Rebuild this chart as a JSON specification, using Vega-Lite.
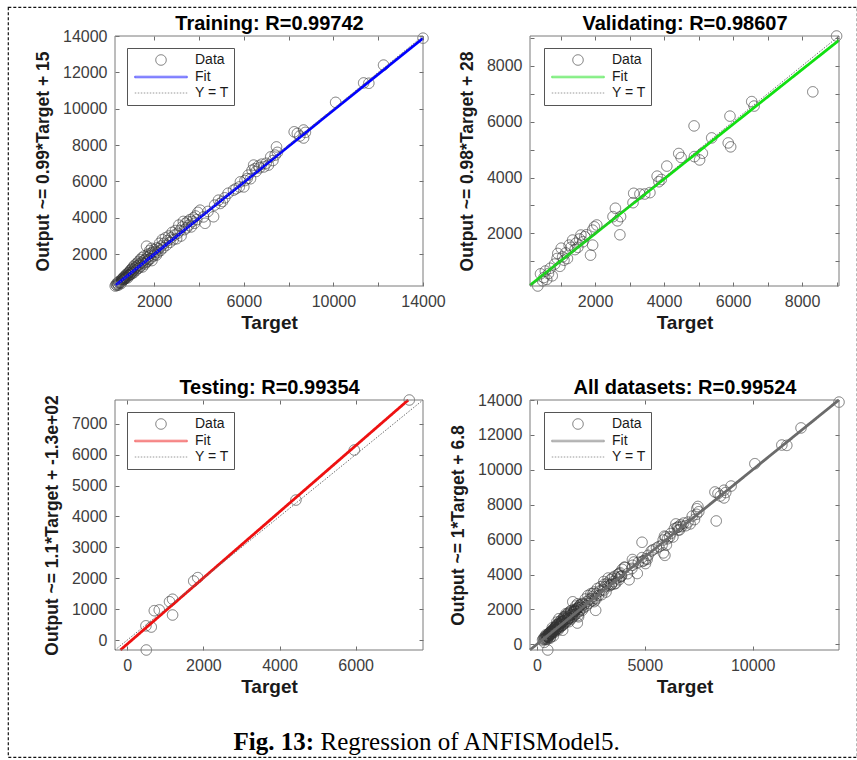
{
  "$schema": "https://vega.github.io/schema/vega-lite/v6.json",
  "background": "white",
  "autosize": {"type": "none"},
  "width": 849,
  "height": 750,
  "padding": {"left": 8, "top": 7, "right": 0, "bottom": 3},
  "view": {"stroke": "#111111", "strokeWidth": 1.2, "strokeDash": [3, 2], "fill": null},
  "datasets": {
    "points": [
      {"set": "Training", "target": 260, "output": 250}, {"set": "Training", "target": 300, "output": 330}, {"set": "Training", "target": 330, "output": 280}, {"set": "Training", "target": 350, "output": 420}, {"set": "Training", "target": 380, "output": 360}, {"set": "Training", "target": 400, "output": 300}, {"set": "Training", "target": 420, "output": 480}, {"set": "Training", "target": 450, "output": 410}, {"set": "Training", "target": 470, "output": 520}, {"set": "Training", "target": 500, "output": 450},
      {"set": "Training", "target": 520, "output": 380}, {"set": "Training", "target": 540, "output": 600}, {"set": "Training", "target": 560, "output": 520}, {"set": "Training", "target": 580, "output": 650}, {"set": "Training", "target": 600, "output": 560}, {"set": "Training", "target": 620, "output": 700}, {"set": "Training", "target": 640, "output": 590}, {"set": "Training", "target": 660, "output": 760}, {"set": "Training", "target": 680, "output": 640}, {"set": "Training", "target": 700, "output": 720},
      {"set": "Training", "target": 720, "output": 820}, {"set": "Training", "target": 740, "output": 680}, {"set": "Training", "target": 760, "output": 900}, {"set": "Training", "target": 780, "output": 760}, {"set": "Training", "target": 800, "output": 850}, {"set": "Training", "target": 820, "output": 700}, {"set": "Training", "target": 840, "output": 960}, {"set": "Training", "target": 860, "output": 820}, {"set": "Training", "target": 880, "output": 1000}, {"set": "Training", "target": 900, "output": 860},
      {"set": "Training", "target": 920, "output": 1080}, {"set": "Training", "target": 940, "output": 900}, {"set": "Training", "target": 960, "output": 1150}, {"set": "Training", "target": 980, "output": 1000}, {"set": "Training", "target": 1000, "output": 920}, {"set": "Training", "target": 1020, "output": 1200}, {"set": "Training", "target": 1040, "output": 1050}, {"set": "Training", "target": 1060, "output": 1300}, {"set": "Training", "target": 1080, "output": 980}, {"set": "Training", "target": 1100, "output": 1150},
      {"set": "Training", "target": 1130, "output": 1400}, {"set": "Training", "target": 1150, "output": 1250}, {"set": "Training", "target": 1180, "output": 1100}, {"set": "Training", "target": 1200, "output": 1320}, {"set": "Training", "target": 1230, "output": 1500}, {"set": "Training", "target": 1250, "output": 1200}, {"set": "Training", "target": 1280, "output": 1380}, {"set": "Training", "target": 1300, "output": 1600}, {"set": "Training", "target": 1330, "output": 1250}, {"set": "Training", "target": 1350, "output": 1450},
      {"set": "Training", "target": 1380, "output": 1700}, {"set": "Training", "target": 1400, "output": 1350}, {"set": "Training", "target": 1430, "output": 1550}, {"set": "Training", "target": 1450, "output": 1800}, {"set": "Training", "target": 1480, "output": 1300}, {"set": "Training", "target": 1500, "output": 1500}, {"set": "Training", "target": 1530, "output": 1650}, {"set": "Training", "target": 1550, "output": 1900}, {"set": "Training", "target": 1580, "output": 1450}, {"set": "Training", "target": 1600, "output": 1700},
      {"set": "Training", "target": 1630, "output": 1550}, {"set": "Training", "target": 1660, "output": 2440}, {"set": "Training", "target": 1680, "output": 1800}, {"set": "Training", "target": 1700, "output": 1600}, {"set": "Training", "target": 1730, "output": 2000}, {"set": "Training", "target": 1750, "output": 1700}, {"set": "Training", "target": 1780, "output": 1900}, {"set": "Training", "target": 1800, "output": 2200}, {"set": "Training", "target": 1830, "output": 1750}, {"set": "Training", "target": 1850, "output": 2050},
      {"set": "Training", "target": 1880, "output": 2320}, {"set": "Training", "target": 1900, "output": 1650}, {"set": "Training", "target": 1930, "output": 2100}, {"set": "Training", "target": 1960, "output": 1900}, {"set": "Training", "target": 2000, "output": 2250}, {"set": "Training", "target": 2030, "output": 2000}, {"set": "Training", "target": 2060, "output": 2150}, {"set": "Training", "target": 2100, "output": 1950}, {"set": "Training", "target": 2130, "output": 2350}, {"set": "Training", "target": 2160, "output": 2100},
      {"set": "Training", "target": 2200, "output": 2300}, {"set": "Training", "target": 2240, "output": 2600}, {"set": "Training", "target": 2280, "output": 2200}, {"set": "Training", "target": 2320, "output": 2450}, {"set": "Training", "target": 2360, "output": 2800}, {"set": "Training", "target": 2400, "output": 2350}, {"set": "Training", "target": 2450, "output": 2600}, {"set": "Training", "target": 2500, "output": 2900}, {"set": "Training", "target": 2550, "output": 2500}, {"set": "Training", "target": 2600, "output": 2750},
      {"set": "Training", "target": 2650, "output": 3000}, {"set": "Training", "target": 2700, "output": 2650}, {"set": "Training", "target": 2750, "output": 2900}, {"set": "Training", "target": 2800, "output": 3200}, {"set": "Training", "target": 2850, "output": 2800}, {"set": "Training", "target": 2900, "output": 3050}, {"set": "Training", "target": 2950, "output": 3300}, {"set": "Training", "target": 3000, "output": 2850}, {"set": "Training", "target": 3050, "output": 3150}, {"set": "Training", "target": 3100, "output": 3600},
      {"set": "Training", "target": 3150, "output": 3300}, {"set": "Training", "target": 3200, "output": 3000}, {"set": "Training", "target": 3250, "output": 3500}, {"set": "Training", "target": 3300, "output": 3800}, {"set": "Training", "target": 3350, "output": 3350}, {"set": "Training", "target": 3400, "output": 3700}, {"set": "Training", "target": 3450, "output": 3450}, {"set": "Training", "target": 3500, "output": 3800}, {"set": "Training", "target": 3550, "output": 3600}, {"set": "Training", "target": 3600, "output": 3900},
      {"set": "Training", "target": 3650, "output": 3500}, {"set": "Training", "target": 3700, "output": 3800}, {"set": "Training", "target": 3750, "output": 4000}, {"set": "Training", "target": 3800, "output": 3700}, {"set": "Training", "target": 3850, "output": 4100}, {"set": "Training", "target": 3900, "output": 3900}, {"set": "Training", "target": 3950, "output": 4300}, {"set": "Training", "target": 4050, "output": 4420}, {"set": "Training", "target": 4200, "output": 4050}, {"set": "Training", "target": 4270, "output": 3700},
      {"set": "Training", "target": 4400, "output": 4350}, {"set": "Training", "target": 4650, "output": 4060}, {"set": "Training", "target": 4700, "output": 4700}, {"set": "Training", "target": 4870, "output": 4970}, {"set": "Training", "target": 4950, "output": 4790}, {"set": "Training", "target": 5050, "output": 4900}, {"set": "Training", "target": 5150, "output": 5100}, {"set": "Training", "target": 5300, "output": 5350}, {"set": "Training", "target": 5540, "output": 5520}, {"set": "Training", "target": 5650, "output": 5600},
      {"set": "Training", "target": 5800, "output": 5700}, {"set": "Training", "target": 5850, "output": 5980}, {"set": "Training", "target": 6000, "output": 5700}, {"set": "Training", "target": 6050, "output": 6050}, {"set": "Training", "target": 6150, "output": 6160}, {"set": "Training", "target": 6200, "output": 6350}, {"set": "Training", "target": 6300, "output": 6150}, {"set": "Training", "target": 6370, "output": 6620}, {"set": "Training", "target": 6440, "output": 6900}, {"set": "Training", "target": 6500, "output": 6700},
      {"set": "Training", "target": 6550, "output": 6550}, {"set": "Training", "target": 6650, "output": 6850}, {"set": "Training", "target": 6700, "output": 6750}, {"set": "Training", "target": 6800, "output": 6950}, {"set": "Training", "target": 6900, "output": 6800}, {"set": "Training", "target": 7000, "output": 7000}, {"set": "Training", "target": 7100, "output": 6900}, {"set": "Training", "target": 7200, "output": 7350}, {"set": "Training", "target": 7300, "output": 7150}, {"set": "Training", "target": 7400, "output": 7450},
      {"set": "Training", "target": 7460, "output": 7900}, {"set": "Training", "target": 7500, "output": 7600}, {"set": "Training", "target": 8250, "output": 8730}, {"set": "Training", "target": 8390, "output": 8640}, {"set": "Training", "target": 8500, "output": 8500}, {"set": "Training", "target": 8670, "output": 8830}, {"set": "Training", "target": 8670, "output": 8390}, {"set": "Training", "target": 8750, "output": 8700}, {"set": "Training", "target": 10100, "output": 10350}, {"set": "Training", "target": 11350, "output": 11420},
      {"set": "Training", "target": 11580, "output": 11400}, {"set": "Training", "target": 12240, "output": 12400}, {"set": "Training", "target": 14000, "output": 13880},
      {"set": "Validating", "target": 340, "output": 115}, {"set": "Validating", "target": 420, "output": 550}, {"set": "Validating", "target": 480, "output": 300}, {"set": "Validating", "target": 520, "output": 420}, {"set": "Validating", "target": 560, "output": 650}, {"set": "Validating", "target": 600, "output": 350}, {"set": "Validating", "target": 650, "output": 560}, {"set": "Validating", "target": 700, "output": 750}, {"set": "Validating", "target": 760, "output": 480}, {"set": "Validating", "target": 830, "output": 900},
      {"set": "Validating", "target": 900, "output": 1100}, {"set": "Validating", "target": 920, "output": 1280}, {"set": "Validating", "target": 980, "output": 820}, {"set": "Validating", "target": 1020, "output": 1470}, {"set": "Validating", "target": 1060, "output": 1160}, {"set": "Validating", "target": 1100, "output": 1040}, {"set": "Validating", "target": 1150, "output": 1300}, {"set": "Validating", "target": 1200, "output": 1100}, {"set": "Validating", "target": 1250, "output": 1580}, {"set": "Validating", "target": 1300, "output": 1500},
      {"set": "Validating", "target": 1350, "output": 1760}, {"set": "Validating", "target": 1420, "output": 1420}, {"set": "Validating", "target": 1450, "output": 1650}, {"set": "Validating", "target": 1500, "output": 1500}, {"set": "Validating", "target": 1550, "output": 1800}, {"set": "Validating", "target": 1590, "output": 1940}, {"set": "Validating", "target": 1650, "output": 1700}, {"set": "Validating", "target": 1700, "output": 1880}, {"set": "Validating", "target": 1750, "output": 1950}, {"set": "Validating", "target": 1870, "output": 1220},
      {"set": "Validating", "target": 1930, "output": 1580}, {"set": "Validating", "target": 1930, "output": 2116}, {"set": "Validating", "target": 1980, "output": 2235}, {"set": "Validating", "target": 2050, "output": 2300}, {"set": "Validating", "target": 2520, "output": 2600}, {"set": "Validating", "target": 2590, "output": 2900}, {"set": "Validating", "target": 2650, "output": 2450}, {"set": "Validating", "target": 2740, "output": 2600}, {"set": "Validating", "target": 2720, "output": 1950}, {"set": "Validating", "target": 3100, "output": 3100},
      {"set": "Validating", "target": 3120, "output": 3435}, {"set": "Validating", "target": 3300, "output": 3410}, {"set": "Validating", "target": 3440, "output": 3410}, {"set": "Validating", "target": 3590, "output": 3460}, {"set": "Validating", "target": 3800, "output": 4050}, {"set": "Validating", "target": 3850, "output": 3850}, {"set": "Validating", "target": 3920, "output": 3930}, {"set": "Validating", "target": 4080, "output": 4410}, {"set": "Validating", "target": 4425, "output": 4860}, {"set": "Validating", "target": 4495, "output": 4720},
      {"set": "Validating", "target": 4880, "output": 4750}, {"set": "Validating", "target": 5030, "output": 4630}, {"set": "Validating", "target": 5110, "output": 4870}, {"set": "Validating", "target": 4870, "output": 5850}, {"set": "Validating", "target": 5380, "output": 5420}, {"set": "Validating", "target": 5860, "output": 5240}, {"set": "Validating", "target": 5930, "output": 5100}, {"set": "Validating", "target": 5910, "output": 6200}, {"set": "Validating", "target": 6540, "output": 6720}, {"set": "Validating", "target": 6610, "output": 6560},
      {"set": "Validating", "target": 8310, "output": 7070}, {"set": "Validating", "target": 9000, "output": 9070},
      {"set": "Testing", "target": 500, "output": -323}, {"set": "Testing", "target": 490, "output": 460}, {"set": "Testing", "target": 630, "output": 420}, {"set": "Testing", "target": 710, "output": 950}, {"set": "Testing", "target": 840, "output": 975}, {"set": "Testing", "target": 1110, "output": 1240}, {"set": "Testing", "target": 1190, "output": 1320}, {"set": "Testing", "target": 1190, "output": 810}, {"set": "Testing", "target": 1745, "output": 1910}, {"set": "Testing", "target": 1850, "output": 2020},
      {"set": "Testing", "target": 4430, "output": 4530}, {"set": "Testing", "target": 5965, "output": 6150}, {"set": "Testing", "target": 7410, "output": 7770}
    ],
    "lines": [
      {"panel": "Training", "kind": "Fit", "target": 250, "output": 262.5}, {"panel": "Training", "kind": "Fit", "target": 14000, "output": 13875},
      {"panel": "Training", "kind": "Y = T", "target": 250, "output": 250}, {"panel": "Training", "kind": "Y = T", "target": 14000, "output": 14000},
      {"panel": "Validating", "kind": "Fit", "target": 115, "output": 140.7}, {"panel": "Validating", "kind": "Fit", "target": 9070, "output": 8916.6},
      {"panel": "Validating", "kind": "Y = T", "target": 115, "output": 115}, {"panel": "Validating", "kind": "Y = T", "target": 9070, "output": 9070},
      {"panel": "Testing", "kind": "Fit", "target": -180.4, "output": -323}, {"panel": "Testing", "kind": "Fit", "target": 7383, "output": 7770},
      {"panel": "Testing", "kind": "Y = T", "target": -323, "output": -323}, {"panel": "Testing", "kind": "Y = T", "target": 7770, "output": 7770},
      {"panel": "All", "kind": "Fit", "target": -323, "output": -316.2}, {"panel": "All", "kind": "Fit", "target": 13993, "output": 14000},
      {"panel": "All", "kind": "Y = T", "target": -323, "output": -323}, {"panel": "All", "kind": "Y = T", "target": 14000, "output": 14000}
    ],
    "frames": [
      {"panel": "Training", "lo": 250, "hi": 14000},
      {"panel": "Validating", "lo": 115, "hi": 9070},
      {"panel": "Testing", "lo": -323, "hi": 7770},
      {"panel": "All", "lo": -323, "hi": 14000}
    ],
    "caption": [{"lead": "Fig. 13:", "rest": "Regression of ANFISModel5.", "pos": 0.5}]
  },
  "resolve": {
    "scale": {"x": "independent", "y": "independent", "color": "independent", "shape": "independent", "strokeDash": "independent"},
    "axis": {"x": "independent", "y": "independent"},
    "legend": {"color": "independent", "shape": "independent", "strokeDash": "independent"}
  },
  "layer": [
    {
      "resolve": {"axis": {"x": "independent", "y": "independent"}},
      "layer": [
        {"data": {"name": "points"}, "transform": [{"filter": "datum.set === 'Training'"}],
         "mark": {"type": "point", "filled": false, "size": 110, "strokeWidth": 1},
         "encoding": {
           "x": {"field": "target", "type": "quantitative", "scale": {"domain": [250, 14000], "range": [107, 415], "nice": false, "zero": false},
                 "axis": {"orient": "bottom", "offset": -471, "title": "Target", "values": [2000, 4000, 6000, 8000, 10000, 12000, 14000], "labelExpr": "datum.value % 4000 == 2000 ? datum.label : ''"}},
           "y": {"field": "output", "type": "quantitative", "scale": {"domain": [250, 14000], "range": [279, 29], "nice": false, "zero": false},
                 "axis": {"orient": "left", "offset": -107, "title": "Output ~= 0.99*Target + 15", "values": [2000, 4000, 6000, 8000, 10000, 12000, 14000]}},
           "color": {"datum": "Data", "type": "nominal", "scale": {"domain": ["Data", "Fit", "Y = T"], "range": ["#333333", "#0000ff", "#6e6e6e"]},
                     "legend": {"title": null, "orient": "none", "legendX": 119, "legendY": 41, "fillColor": "white", "strokeColor": "#555555", "padding": 5, "symbolSize": 110, "symbolStrokeWidth": 1, "symbolOffset": 22, "labelOffset": 27, "rowPadding": 2}},
           "shape": {"datum": "Data", "type": "nominal", "scale": {"domain": ["Data", "Fit", "Y = T"], "range": ["circle", "M-5,-0.14L5,-0.14L5,0.14L-5,0.14Z", "M-5,0L5,0"]}},
           "strokeDash": {"datum": "Data", "type": "nominal", "scale": {"domain": ["Data", "Fit", "Y = T"], "range": [[1, 0], [1, 0], [1.5, 1.5]]}}
         }},
        {"data": {"name": "lines"}, "transform": [{"filter": "datum.panel === 'Training' && datum.kind === 'Fit'"}],
         "mark": {"type": "line", "strokeWidth": 2.8},
         "encoding": {
           "x": {"field": "target", "type": "quantitative", "scale": {"domain": [250, 14000], "range": [107, 415], "nice": false, "zero": false}, "axis": null},
           "y": {"field": "output", "type": "quantitative", "scale": {"domain": [250, 14000], "range": [279, 29], "nice": false, "zero": false}, "axis": null},
           "color": {"datum": "Fit", "type": "nominal", "legend": null},
           "strokeDash": {"datum": "Fit", "type": "nominal", "legend": null}}},
        {"data": {"name": "lines"}, "transform": [{"filter": "datum.panel === 'Training' && datum.kind === 'Y = T'"}],
         "mark": {"type": "line", "strokeWidth": 1},
         "encoding": {
           "x": {"field": "target", "type": "quantitative", "scale": {"domain": [250, 14000], "range": [107, 415], "nice": false, "zero": false}, "axis": null},
           "y": {"field": "output", "type": "quantitative", "scale": {"domain": [250, 14000], "range": [279, 29], "nice": false, "zero": false}, "axis": null},
           "color": {"datum": "Y = T", "type": "nominal", "legend": null},
           "strokeDash": {"datum": "Y = T", "type": "nominal", "legend": null}}},
        {"data": {"name": "frames"}, "transform": [{"filter": "datum.panel === 'Training'"}],
         "mark": {"type": "rect", "fill": null, "stroke": "#7a7a7a", "strokeWidth": 1},
         "encoding": {
           "x": {"field": "lo", "type": "quantitative", "scale": {"domain": [250, 14000], "range": [107, 415], "nice": false, "zero": false},
                 "axis": {"orient": "top", "offset": -29, "title": "Training: R=0.99742", "labels": false, "values": [2000, 4000, 6000, 8000, 10000, 12000, 14000], "titleFontSize": 20, "titleColor": "#000000", "titlePadding": 2}},
           "x2": {"field": "hi"},
           "y": {"field": "lo", "type": "quantitative", "scale": {"domain": [250, 14000], "range": [279, 29], "nice": false, "zero": false},
                 "axis": {"orient": "right", "offset": -434, "title": null, "labels": false, "values": [2000, 4000, 6000, 8000, 10000, 12000, 14000]}},
           "y2": {"field": "hi"}}}
      ]
    },
    {
      "resolve": {"axis": {"x": "independent", "y": "independent"}},
      "layer": [
        {"data": {"name": "points"}, "transform": [{"filter": "datum.set === 'Validating'"}],
         "mark": {"type": "point", "filled": false, "size": 110, "strokeWidth": 1},
         "encoding": {
           "x": {"field": "target", "type": "quantitative", "scale": {"domain": [115, 9070], "range": [522, 831], "nice": false, "zero": false},
                 "axis": {"orient": "bottom", "offset": -471, "title": "Target", "values": [1000, 2000, 3000, 4000, 5000, 6000, 7000, 8000, 9000], "labelExpr": "datum.value % 2000 == 0 ? datum.label : ''"}},
           "y": {"field": "output", "type": "quantitative", "scale": {"domain": [115, 9070], "range": [279, 29], "nice": false, "zero": false},
                 "axis": {"orient": "left", "offset": -522, "title": "Output ~= 0.98*Target + 28", "values": [1000, 2000, 3000, 4000, 5000, 6000, 7000, 8000, 9000], "labelExpr": "datum.value % 2000 == 0 ? datum.label : ''"}},
           "color": {"datum": "Data", "type": "nominal", "scale": {"domain": ["Data", "Fit", "Y = T"], "range": ["#333333", "#11e011", "#6e6e6e"]},
                     "legend": {"title": null, "orient": "none", "legendX": 536, "legendY": 41, "fillColor": "white", "strokeColor": "#555555", "padding": 5, "symbolSize": 110, "symbolStrokeWidth": 1, "symbolOffset": 22, "labelOffset": 27, "rowPadding": 2}},
           "shape": {"datum": "Data", "type": "nominal", "scale": {"domain": ["Data", "Fit", "Y = T"], "range": ["circle", "M-5,-0.14L5,-0.14L5,0.14L-5,0.14Z", "M-5,0L5,0"]}},
           "strokeDash": {"datum": "Data", "type": "nominal", "scale": {"domain": ["Data", "Fit", "Y = T"], "range": [[1, 0], [1, 0], [1.5, 1.5]]}}
         }},
        {"data": {"name": "lines"}, "transform": [{"filter": "datum.panel === 'Validating' && datum.kind === 'Fit'"}],
         "mark": {"type": "line", "strokeWidth": 2.8},
         "encoding": {
           "x": {"field": "target", "type": "quantitative", "scale": {"domain": [115, 9070], "range": [522, 831], "nice": false, "zero": false}, "axis": null},
           "y": {"field": "output", "type": "quantitative", "scale": {"domain": [115, 9070], "range": [279, 29], "nice": false, "zero": false}, "axis": null},
           "color": {"datum": "Fit", "type": "nominal", "legend": null},
           "strokeDash": {"datum": "Fit", "type": "nominal", "legend": null}}},
        {"data": {"name": "lines"}, "transform": [{"filter": "datum.panel === 'Validating' && datum.kind === 'Y = T'"}],
         "mark": {"type": "line", "strokeWidth": 1},
         "encoding": {
           "x": {"field": "target", "type": "quantitative", "scale": {"domain": [115, 9070], "range": [522, 831], "nice": false, "zero": false}, "axis": null},
           "y": {"field": "output", "type": "quantitative", "scale": {"domain": [115, 9070], "range": [279, 29], "nice": false, "zero": false}, "axis": null},
           "color": {"datum": "Y = T", "type": "nominal", "legend": null},
           "strokeDash": {"datum": "Y = T", "type": "nominal", "legend": null}}},
        {"data": {"name": "frames"}, "transform": [{"filter": "datum.panel === 'Validating'"}],
         "mark": {"type": "rect", "fill": null, "stroke": "#7a7a7a", "strokeWidth": 1},
         "encoding": {
           "x": {"field": "lo", "type": "quantitative", "scale": {"domain": [115, 9070], "range": [522, 831], "nice": false, "zero": false},
                 "axis": {"orient": "top", "offset": -29, "title": "Validating: R=0.98607", "labels": false, "values": [1000, 2000, 3000, 4000, 5000, 6000, 7000, 8000, 9000], "titleFontSize": 20, "titleColor": "#000000", "titlePadding": 2}},
           "x2": {"field": "hi"},
           "y": {"field": "lo", "type": "quantitative", "scale": {"domain": [115, 9070], "range": [279, 29], "nice": false, "zero": false},
                 "axis": {"orient": "right", "offset": -18, "title": null, "labels": false, "values": [1000, 2000, 3000, 4000, 5000, 6000, 7000, 8000, 9000]}},
           "y2": {"field": "hi"}}}
      ]
    },
    {
      "resolve": {"axis": {"x": "independent", "y": "independent"}},
      "layer": [
        {"data": {"name": "points"}, "transform": [{"filter": "datum.set === 'Testing'"}],
         "mark": {"type": "point", "filled": false, "size": 110, "strokeWidth": 1},
         "encoding": {
           "x": {"field": "target", "type": "quantitative", "scale": {"domain": [-323, 7770], "range": [107, 415], "nice": false, "zero": false},
                 "axis": {"orient": "bottom", "offset": -107, "title": "Target", "values": [0, 2000, 4000, 6000]}},
           "y": {"field": "output", "type": "quantitative", "scale": {"domain": [-323, 7770], "range": [643, 393], "nice": false, "zero": false},
                 "axis": {"orient": "left", "offset": -107, "title": "Output ~= 1.1*Target + -1.3e+02", "values": [0, 1000, 2000, 3000, 4000, 5000, 6000, 7000]}},
           "color": {"datum": "Data", "type": "nominal", "scale": {"domain": ["Data", "Fit", "Y = T"], "range": ["#333333", "#ee1111", "#6e6e6e"]},
                     "legend": {"title": null, "orient": "none", "legendX": 119, "legendY": 405, "fillColor": "white", "strokeColor": "#555555", "padding": 5, "symbolSize": 110, "symbolStrokeWidth": 1, "symbolOffset": 22, "labelOffset": 27, "rowPadding": 2}},
           "shape": {"datum": "Data", "type": "nominal", "scale": {"domain": ["Data", "Fit", "Y = T"], "range": ["circle", "M-5,-0.14L5,-0.14L5,0.14L-5,0.14Z", "M-5,0L5,0"]}},
           "strokeDash": {"datum": "Data", "type": "nominal", "scale": {"domain": ["Data", "Fit", "Y = T"], "range": [[1, 0], [1, 0], [1.5, 1.5]]}}
         }},
        {"data": {"name": "lines"}, "transform": [{"filter": "datum.panel === 'Testing' && datum.kind === 'Fit'"}],
         "mark": {"type": "line", "strokeWidth": 2.8},
         "encoding": {
           "x": {"field": "target", "type": "quantitative", "scale": {"domain": [-323, 7770], "range": [107, 415], "nice": false, "zero": false}, "axis": null},
           "y": {"field": "output", "type": "quantitative", "scale": {"domain": [-323, 7770], "range": [643, 393], "nice": false, "zero": false}, "axis": null},
           "color": {"datum": "Fit", "type": "nominal", "legend": null},
           "strokeDash": {"datum": "Fit", "type": "nominal", "legend": null}}},
        {"data": {"name": "lines"}, "transform": [{"filter": "datum.panel === 'Testing' && datum.kind === 'Y = T'"}],
         "mark": {"type": "line", "strokeWidth": 1},
         "encoding": {
           "x": {"field": "target", "type": "quantitative", "scale": {"domain": [-323, 7770], "range": [107, 415], "nice": false, "zero": false}, "axis": null},
           "y": {"field": "output", "type": "quantitative", "scale": {"domain": [-323, 7770], "range": [643, 393], "nice": false, "zero": false}, "axis": null},
           "color": {"datum": "Y = T", "type": "nominal", "legend": null},
           "strokeDash": {"datum": "Y = T", "type": "nominal", "legend": null}}},
        {"data": {"name": "frames"}, "transform": [{"filter": "datum.panel === 'Testing'"}],
         "mark": {"type": "rect", "fill": null, "stroke": "#7a7a7a", "strokeWidth": 1},
         "encoding": {
           "x": {"field": "lo", "type": "quantitative", "scale": {"domain": [-323, 7770], "range": [107, 415], "nice": false, "zero": false},
                 "axis": {"orient": "top", "offset": -393, "title": "Testing: R=0.99354", "labels": false, "values": [0, 2000, 4000, 6000], "titleFontSize": 20, "titleColor": "#000000", "titlePadding": 2}},
           "x2": {"field": "hi"},
           "y": {"field": "lo", "type": "quantitative", "scale": {"domain": [-323, 7770], "range": [643, 393], "nice": false, "zero": false},
                 "axis": {"orient": "right", "offset": -434, "title": null, "labels": false, "values": [0, 1000, 2000, 3000, 4000, 5000, 6000, 7000]}},
           "y2": {"field": "hi"}}}
      ]
    },
    {
      "resolve": {"axis": {"x": "independent", "y": "independent"}},
      "layer": [
        {"data": {"name": "points"},
         "mark": {"type": "point", "filled": false, "size": 110, "strokeWidth": 1},
         "encoding": {
           "x": {"field": "target", "type": "quantitative", "scale": {"domain": [-323, 14000], "range": [522, 831], "nice": false, "zero": false},
                 "axis": {"orient": "bottom", "offset": -107, "title": "Target", "values": [0, 5000, 10000]}},
           "y": {"field": "output", "type": "quantitative", "scale": {"domain": [-323, 14000], "range": [643, 393], "nice": false, "zero": false},
                 "axis": {"orient": "left", "offset": -522, "title": "Output ~= 1*Target + 6.8", "values": [0, 2000, 4000, 6000, 8000, 10000, 12000, 14000]}},
           "color": {"datum": "Data", "type": "nominal", "scale": {"domain": ["Data", "Fit", "Y = T"], "range": ["#333333", "#6a6a6a", "#6e6e6e"]},
                     "legend": {"title": null, "orient": "none", "legendX": 536, "legendY": 405, "fillColor": "white", "strokeColor": "#555555", "padding": 5, "symbolSize": 110, "symbolStrokeWidth": 1, "symbolOffset": 22, "labelOffset": 27, "rowPadding": 2}},
           "shape": {"datum": "Data", "type": "nominal", "scale": {"domain": ["Data", "Fit", "Y = T"], "range": ["circle", "M-5,-0.14L5,-0.14L5,0.14L-5,0.14Z", "M-5,0L5,0"]}},
           "strokeDash": {"datum": "Data", "type": "nominal", "scale": {"domain": ["Data", "Fit", "Y = T"], "range": [[1, 0], [1, 0], [1.5, 1.5]]}}
         }},
        {"data": {"name": "lines"}, "transform": [{"filter": "datum.panel === 'All' && datum.kind === 'Fit'"}],
         "mark": {"type": "line", "strokeWidth": 2.8},
         "encoding": {
           "x": {"field": "target", "type": "quantitative", "scale": {"domain": [-323, 14000], "range": [522, 831], "nice": false, "zero": false}, "axis": null},
           "y": {"field": "output", "type": "quantitative", "scale": {"domain": [-323, 14000], "range": [643, 393], "nice": false, "zero": false}, "axis": null},
           "color": {"datum": "Fit", "type": "nominal", "legend": null},
           "strokeDash": {"datum": "Fit", "type": "nominal", "legend": null}}},
        {"data": {"name": "lines"}, "transform": [{"filter": "datum.panel === 'All' && datum.kind === 'Y = T'"}],
         "mark": {"type": "line", "strokeWidth": 1},
         "encoding": {
           "x": {"field": "target", "type": "quantitative", "scale": {"domain": [-323, 14000], "range": [522, 831], "nice": false, "zero": false}, "axis": null},
           "y": {"field": "output", "type": "quantitative", "scale": {"domain": [-323, 14000], "range": [643, 393], "nice": false, "zero": false}, "axis": null},
           "color": {"datum": "Y = T", "type": "nominal", "legend": null},
           "strokeDash": {"datum": "Y = T", "type": "nominal", "legend": null}}},
        {"data": {"name": "frames"}, "transform": [{"filter": "datum.panel === 'All'"}],
         "mark": {"type": "rect", "fill": null, "stroke": "#7a7a7a", "strokeWidth": 1},
         "encoding": {
           "x": {"field": "lo", "type": "quantitative", "scale": {"domain": [-323, 14000], "range": [522, 831], "nice": false, "zero": false},
                 "axis": {"orient": "top", "offset": -393, "title": "All datasets: R=0.99524", "labels": false, "values": [0, 5000, 10000], "titleFontSize": 20, "titleColor": "#000000", "titlePadding": 2}},
           "x2": {"field": "hi"},
           "y": {"field": "lo", "type": "quantitative", "scale": {"domain": [-323, 14000], "range": [643, 393], "nice": false, "zero": false},
                 "axis": {"orient": "right", "offset": -18, "title": null, "labels": false, "values": [0, 2000, 4000, 6000, 8000, 10000, 12000, 14000]}},
           "y2": {"field": "hi"}}}
      ]
    },
    {
      "data": {"name": "caption"},
      "layer": [
        {"mark": {"type": "text", "font": "Liberation Serif", "fontSize": 25, "fontWeight": "bold", "align": "left", "baseline": "alphabetic", "dx": -199, "dy": 368, "color": "#000000"},
         "encoding": {
           "x": {"field": "pos", "type": "quantitative", "scale": {"domain": [0, 1]},
                 "axis": {"orient": "bottom", "offset": -50, "title": null, "labels": false, "ticks": false, "domain": true, "domainColor": "#111111", "domainWidth": 1.2, "domainDash": [3, 2]}},
           "text": {"field": "lead"}}},
        {"mark": {"type": "text", "font": "Liberation Serif", "fontSize": 25, "align": "left", "baseline": "alphabetic", "dx": -112, "dy": 368, "color": "#000000"},
         "encoding": {
           "x": {"field": "pos", "type": "quantitative", "scale": {"domain": [0, 1]}, "axis": null},
           "text": {"field": "rest"}}}
      ]
    }
  ],
  "config": {
    "font": "Liberation Sans",
    "axis": {
      "format": "d", "grid": false, "domain": false,
      "ticks": true, "tickSize": -4, "tickColor": "#6e6e6e",
      "labelFont": "Liberation Sans", "labelFontSize": 16, "labelColor": "#3d3d3d",
      "labelOverlap": false, "labelFlush": false,
      "titleFont": "Liberation Sans", "titleFontWeight": "bold", "titleColor": "#1a1a1a"
    },
    "axisX": {"labelPadding": 11, "titlePadding": 4, "titleFontSize": 19},
    "axisY": {"labelPadding": 12, "titlePadding": 10, "titleFontSize": 17.5},
    "legend": {"labelFont": "Liberation Sans", "labelFontSize": 14, "labelColor": "#1a1a1a"}
  }
}
